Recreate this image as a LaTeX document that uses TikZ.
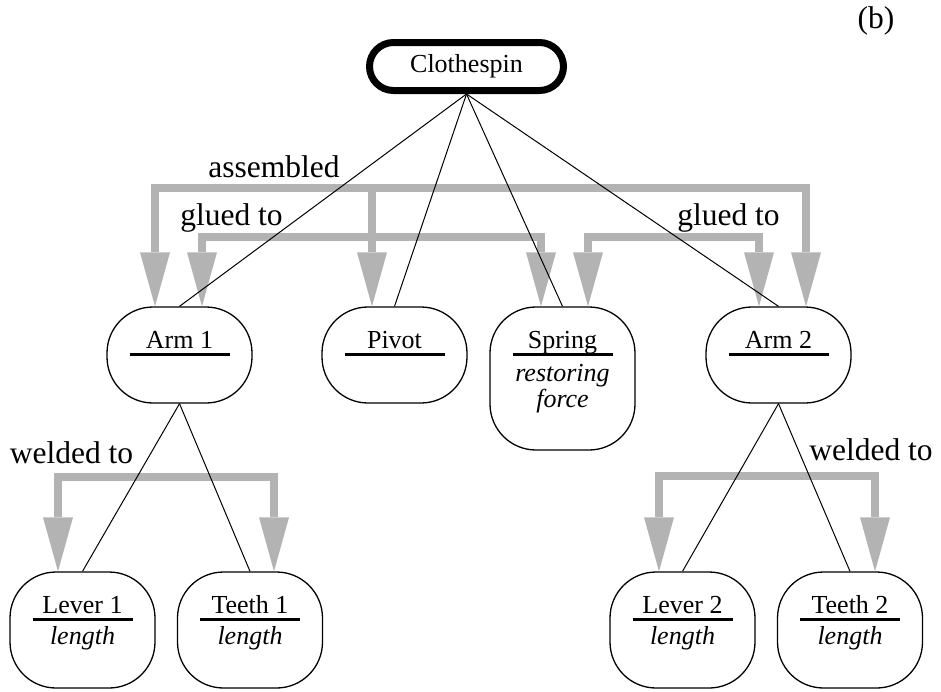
\documentclass[tikz,border=0pt]{standalone}
\usepackage{fontspec}
\setmainfont{Liberation Serif}
\usetikzlibrary{arrows.meta}
\definecolor{relgray}{RGB}{179,179,179}
\tikzset{
  part/.style={draw, line width=1.3pt, rounded corners=46pt, fill=white,
    minimum width=145pt, minimum height=96pt, inner sep=0pt},
  title/.style={anchor=base, inner sep=0pt, font=\fontsize{26}{26}\selectfont},
  attr/.style={anchor=base, inner sep=0pt, font=\fontsize{26}{26}\selectfont\itshape},
  rel/.style={anchor=base, inner sep=0pt, font=\fontsize{31.5}{31.5}\selectfont},
  bus/.style={draw=relgray, line width=8pt, line cap=rect},
  drop/.style={draw=relgray, line width=8pt,
    -{Triangle[length=54pt,width=30pt,line width=0pt]}},
  tie/.style={draw, line width=1pt},
  bar/.style={line width=3.5pt}
}
% title of a part with the rule beneath it
\newcommand\parttitle[2]{%
  \node[title] (#1-t) at ([yshift=-42pt]#1.north) {#2};
  \draw[bar] ([xshift=-50pt,yshift=-48pt]#1.north) -- ++(100,0);
}
\begin{document}
\begin{tikzpicture}[x=1pt,y=-1pt]
\useasboundingbox (0,0) rectangle (941,691);

% root
\node[draw, line width=7pt, rounded corners=24pt, minimum width=194pt,
  minimum height=48pt, inner sep=0pt, font=\fontsize{26}{26}\selectfont]
  (clothespin) at (466.5,66.5) {Clothespin};

% parts
\node[part] (arm1) at (179.5,355) {};
\node[part] (pivot) at (394.5,355) {};
\node[part, minimum height=143pt] (spring) at (562.5,378.5) {};
\node[part] (arm2) at (778.5,355) {};
\node[part, minimum height=116pt] (lever1) at (82.5,630) {};
\node[part, minimum height=116pt] (teeth1) at (250,630) {};
\node[part, minimum height=116pt] (lever2) at (682.5,630) {};
\node[part, minimum height=116pt] (teeth2) at (850,630) {};

\parttitle{arm1}{Arm 1}
\parttitle{pivot}{Pivot}
\parttitle{spring}{Spring}
\parttitle{arm2}{Arm 2}
\parttitle{lever1}{Lever 1}
\parttitle{teeth1}{Teeth 1}
\parttitle{lever2}{Lever 2}
\parttitle{teeth2}{Teeth 2}

\node[attr] (spring-a) at ([yshift=-75pt]spring.north) {restoring};
\node[attr] (spring-b) at ([yshift=-101pt]spring.north) {force};
\node[attr] (lever1-a) at ([yshift=-73pt]lever1.north) {length};
\node[attr] (teeth1-a) at ([yshift=-73pt]teeth1.north) {length};
\node[attr] (lever2-a) at ([yshift=-73pt]lever2.north) {length};
\node[attr] (teeth2-a) at ([yshift=-73pt]teeth2.north) {length};

% relation buses
\coordinate (asm-arm1) at (155,188);
\coordinate (asm-pivot) at (372,188);
\coordinate (asm-arm2) at (806,188);
\coordinate (glL-arm1) at (202,237);
\coordinate (glL-spring) at (541,237);
\coordinate (glR-spring) at (588,237);
\coordinate (glR-arm2) at (759,237);
\coordinate (wdL-lever1) at (58,477);
\coordinate (wdL-teeth1) at (274,477);
\coordinate (wdR-lever2) at (659,476);
\coordinate (wdR-teeth2) at (875,476);

\draw[bus] (asm-arm1) -- (asm-arm2);
\draw[drop] (asm-arm1) -- (asm-arm1 |- arm1.north);
\draw[drop] (asm-pivot) -- (asm-pivot |- pivot.north);
\draw[drop] (asm-arm2) -- (asm-arm2 |- arm2.north);

\draw[bus] (glL-arm1) -- (glL-spring);
\draw[drop] (glL-arm1) -- (glL-arm1 |- arm1.north);
\draw[drop] (glL-spring) -- (glL-spring |- spring.north);

\draw[bus] (glR-spring) -- (glR-arm2);
\draw[drop] (glR-spring) -- (glR-spring |- spring.north);
\draw[drop] (glR-arm2) -- (glR-arm2 |- arm2.north);

\draw[bus] (wdL-lever1) -- (wdL-teeth1);
\draw[drop] (wdL-lever1) -- (wdL-lever1 |- lever1.north);
\draw[drop] (wdL-teeth1) -- (wdL-teeth1 |- teeth1.north);

\draw[bus] (wdR-lever2) -- (wdR-teeth2);
\draw[drop] (wdR-lever2) -- (wdR-lever2 |- lever2.north);
\draw[drop] (wdR-teeth2) -- (wdR-teeth2 |- teeth2.north);

% relation labels
\node[rel] (asm-l) at (274,177) {assembled};
\node[rel] (glL-l) at (231.5,225) {glued to};
\node[rel] (glR-l) at (728.5,225) {glued to};
\node[rel] (wdL-l) at (71.5,463) {welded to};
\node[rel] (wdR-l) at (871,460) {welded to};
\node[rel] (tag) at (876,28) {(b)};

% part-of links
\draw[tie] (clothespin.south) -- (arm1.north);
\draw[tie] (clothespin.south) -- (pivot.north);
\draw[tie] (clothespin.south) -- (spring.north);
\draw[tie] (clothespin.south) -- (arm2.north);
\draw[tie] (arm1.south) -- (lever1.north);
\draw[tie] (arm1.south) -- (teeth1.north);
\draw[tie] (arm2.south) -- (lever2.north);
\draw[tie] (arm2.south) -- (teeth2.north);
\end{tikzpicture}
\end{document}
